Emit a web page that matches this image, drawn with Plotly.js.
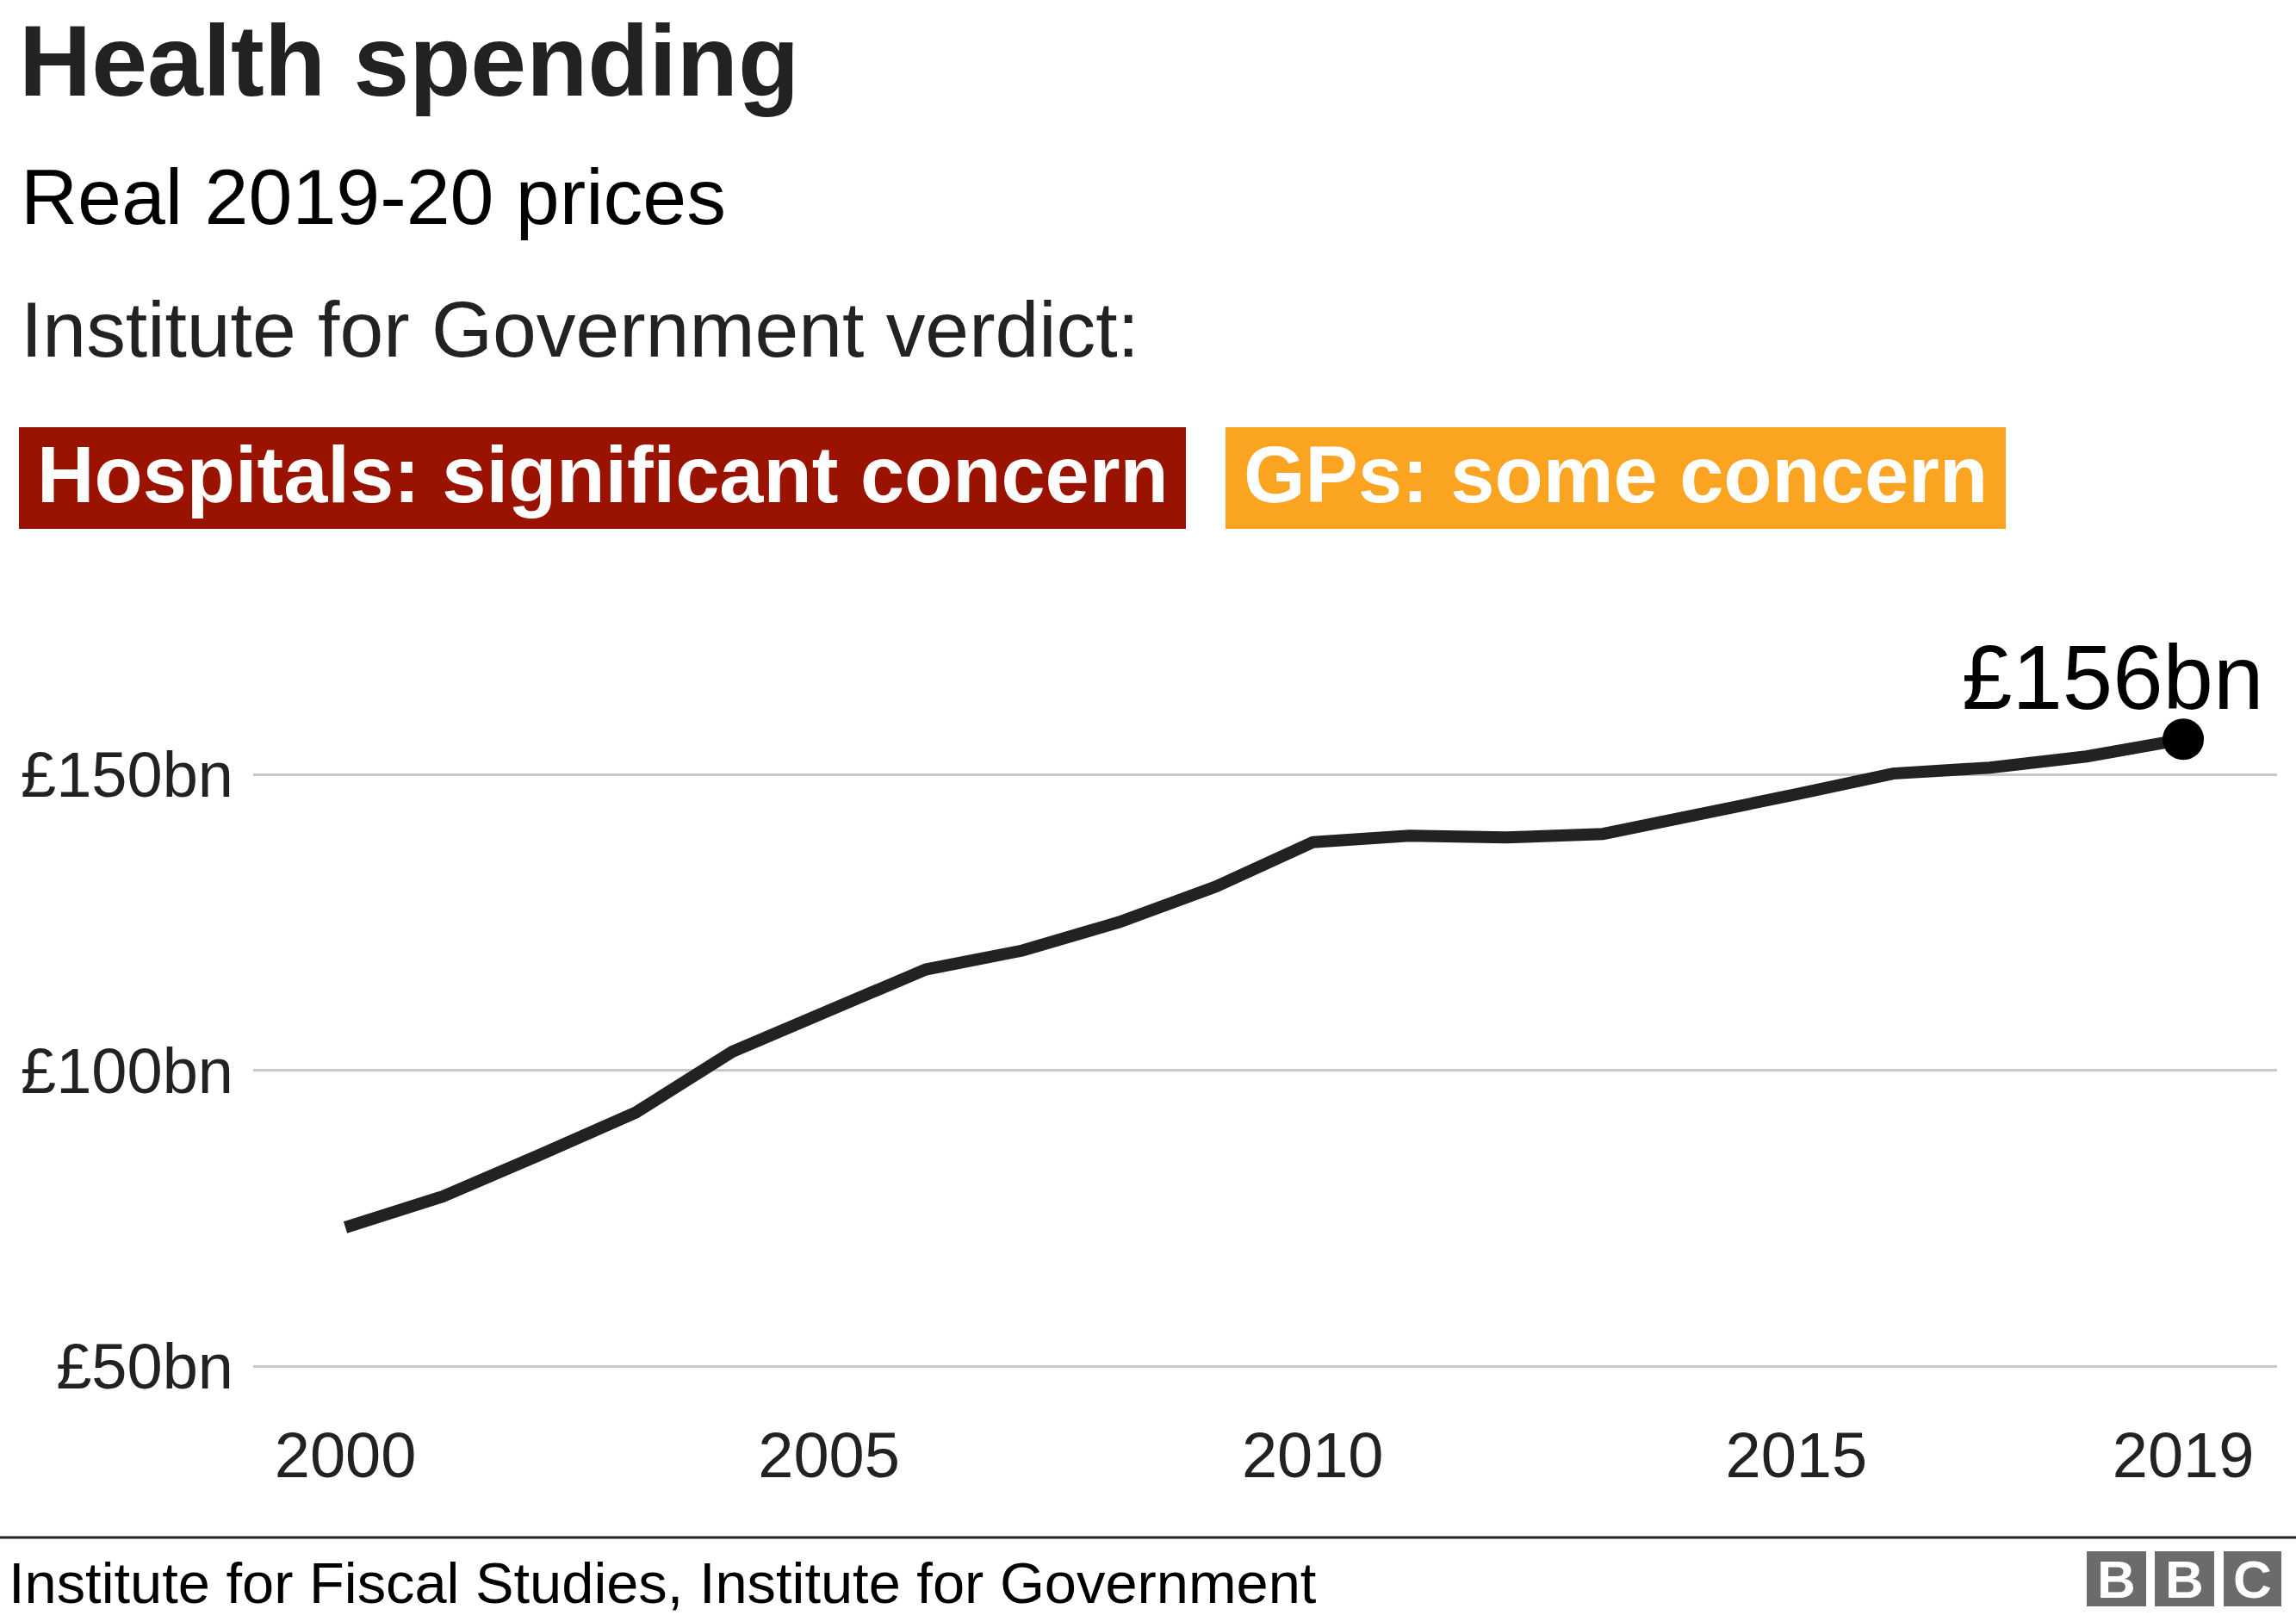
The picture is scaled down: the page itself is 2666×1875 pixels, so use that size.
<!DOCTYPE html>
<html>
<head>
<meta charset="utf-8">
<script src="https://cdn.plot.ly/plotly-3.0.1.min.js"></script>
<style>
  html, body { margin: 0; padding: 0; background: #ffffff; }
  #chart { width: 2666px; height: 1875px; }
</style>
</head>
<body>
<div id="chart"></div>
<script>
// ---- Data ----
const years = [2000, 2001, 2002, 2003, 2004, 2005, 2006, 2007, 2008, 2009,
               2010, 2011, 2012, 2013, 2014, 2015, 2016, 2017, 2018, 2019];
// Health spending, £bn, real 2019-20 prices
const spending = [73.5, 78.7, 85.7, 92.9, 103.2, 110.0, 117.1, 120.3, 125.1, 131.1,
                  138.6, 139.7, 139.4, 140.0, 143.2, 146.7, 150.2, 151.2, 153.1, 156.0];
const xTickVals = [2000, 2005, 2010, 2015, 2019];
const xTickText = ["2000", "2005", "2010", "2015", "2019"];
const yTickVals = [50, 100, 150];
const yTickText = ["£50bn", "£100bn", "£150bn"];
const lastLabel = "£156bn";

const titleText = "Health spending";
const subtitleText = "Real 2019-20 prices";
const verdictText = "Institute for Government verdict:";
const verdicts = ["Hospitals: significant concern", "GPs: some concern"];
const sourceText = "Institute for Fiscal Studies, Institute for Government";

// ---- Layout geometry (pixels) ----
const WIDTH = 2666, HEIGHT = 1875;
const L = 294, R = 22, T = 700, B = 275;
const PW = WIDTH - L - R, PH = HEIGHT - T - B;
const px = x => (x - L) / PW;
const py = y => (T + PH - y) / PH;

const FONT = "Liberation Sans, Arial, Helvetica, sans-serif";
const RED = "#9a1200";
const ORANGE = "#fba422";
const LOGO = "#6b6b6b";

const lastIdx = years.length - 1;

const traces = [
  {
    x: years, y: spending, type: "scatter", mode: "lines",
    line: { color: "#222222", width: 14 },
    hoverinfo: "skip", showlegend: false
  },
  {
    x: [years[lastIdx]], y: [spending[lastIdx]], type: "scatter", mode: "markers",
    marker: { color: "#000000", size: 48 },
    cliponaxis: false, hoverinfo: "skip", showlegend: false
  }
];

function textAnn(text, xPix, yMidPix, size, color, anchor) {
  return {
    xref: "paper", yref: "paper", x: px(xPix), y: py(yMidPix),
    xanchor: anchor || "left", yanchor: "middle", showarrow: false,
    text: text, font: { family: FONT, size: size, color: color }
  };
}

const shapes = [
  // verdict boxes
  { type: "rect", xref: "paper", yref: "paper", x0: px(22), x1: px(1377), y0: py(614), y1: py(496),
    fillcolor: RED, line: { width: 0 } },
  { type: "rect", xref: "paper", yref: "paper", x0: px(1423), x1: px(2329), y0: py(614), y1: py(496),
    fillcolor: ORANGE, line: { width: 0 } },
  // footer rule
  { type: "line", xref: "paper", yref: "paper", x0: px(0), x1: px(WIDTH), y0: py(1785), y1: py(1785),
    line: { color: "#222222", width: 3 } },
  // BBC logo blocks
  { type: "rect", xref: "paper", yref: "paper", x0: px(2423), x1: px(2492), y0: py(1865), y1: py(1801),
    fillcolor: LOGO, line: { width: 0 } },
  { type: "rect", xref: "paper", yref: "paper", x0: px(2502), x1: px(2571), y0: py(1865), y1: py(1801),
    fillcolor: LOGO, line: { width: 0 } },
  { type: "rect", xref: "paper", yref: "paper", x0: px(2582), x1: px(2649), y0: py(1865), y1: py(1801),
    fillcolor: LOGO, line: { width: 0 } }
];

const annotations = [
  textAnn(subtitleText, 22, 227.5, 91.5, "#000000"),
  textAnn(verdictText, 22, 382.5, 91.3, "#222222"),
  textAnn("<b>" + verdicts[0] + "</b>", 699.5, 551, 92, "#ffffff", "center"),
  textAnn("<b>" + verdicts[1] + "</b>", 1876, 551, 92, "#ffffff", "center"),
  textAnn(sourceText, 8, 1838, 66.8, "#000000"),
  textAnn("<b>B</b>", 2457.5, 1833, 62, "#ffffff", "center"),
  textAnn("<b>B</b>", 2536.5, 1833, 62, "#ffffff", "center"),
  textAnn("<b>C</b>", 2615.5, 1833, 62, "#ffffff", "center"),
  {
    xref: "x", yref: "y", x: years[lastIdx], y: spending[lastIdx],
    xanchor: "right", yanchor: "middle", xshift: 95, yshift: 72,
    showarrow: false, text: lastLabel,
    font: { family: FONT, size: 105, color: "#000000" }
  }
];

const layout = {
  width: WIDTH, height: HEIGHT,
  margin: { l: L, r: R, t: T, b: B, pad: 0 },
  paper_bgcolor: "#ffffff", plot_bgcolor: "#ffffff",
  font: { family: FONT, color: "#222222" },
  title: {
    text: "<b>" + titleText + "</b>",
    font: { family: FONT, size: 116.5, color: "#222222" },
    xref: "container", yref: "container",
    x: 22 / WIDTH, xanchor: "left",
    y: 1 - 70 / HEIGHT, yanchor: "middle"
  },
  xaxis: {
    range: [1999.047, 2019.97],
    tickvals: xTickVals, ticktext: xTickText,
    showgrid: false, zeroline: false, showline: false, ticks: "",
    tickfont: { family: FONT, size: 74, color: "#222222" },
    ticklabelstandoff: 40,
    fixedrange: true
  },
  yaxis: {
    range: [48.03, 179.04],
    tickvals: yTickVals, ticktext: yTickText,
    showgrid: true, gridcolor: "#c8c8c8", gridwidth: 3,
    zeroline: false, showline: false, ticks: "",
    tickfont: { family: FONT, size: 74, color: "#222222" },
    ticklabelstandoff: 22,
    fixedrange: true
  },
  shapes: shapes,
  annotations: annotations,
  showlegend: false
};

Plotly.newPlot("chart", traces, layout, { staticPlot: true, displayModeBar: false });
</script>
</body>
</html>
